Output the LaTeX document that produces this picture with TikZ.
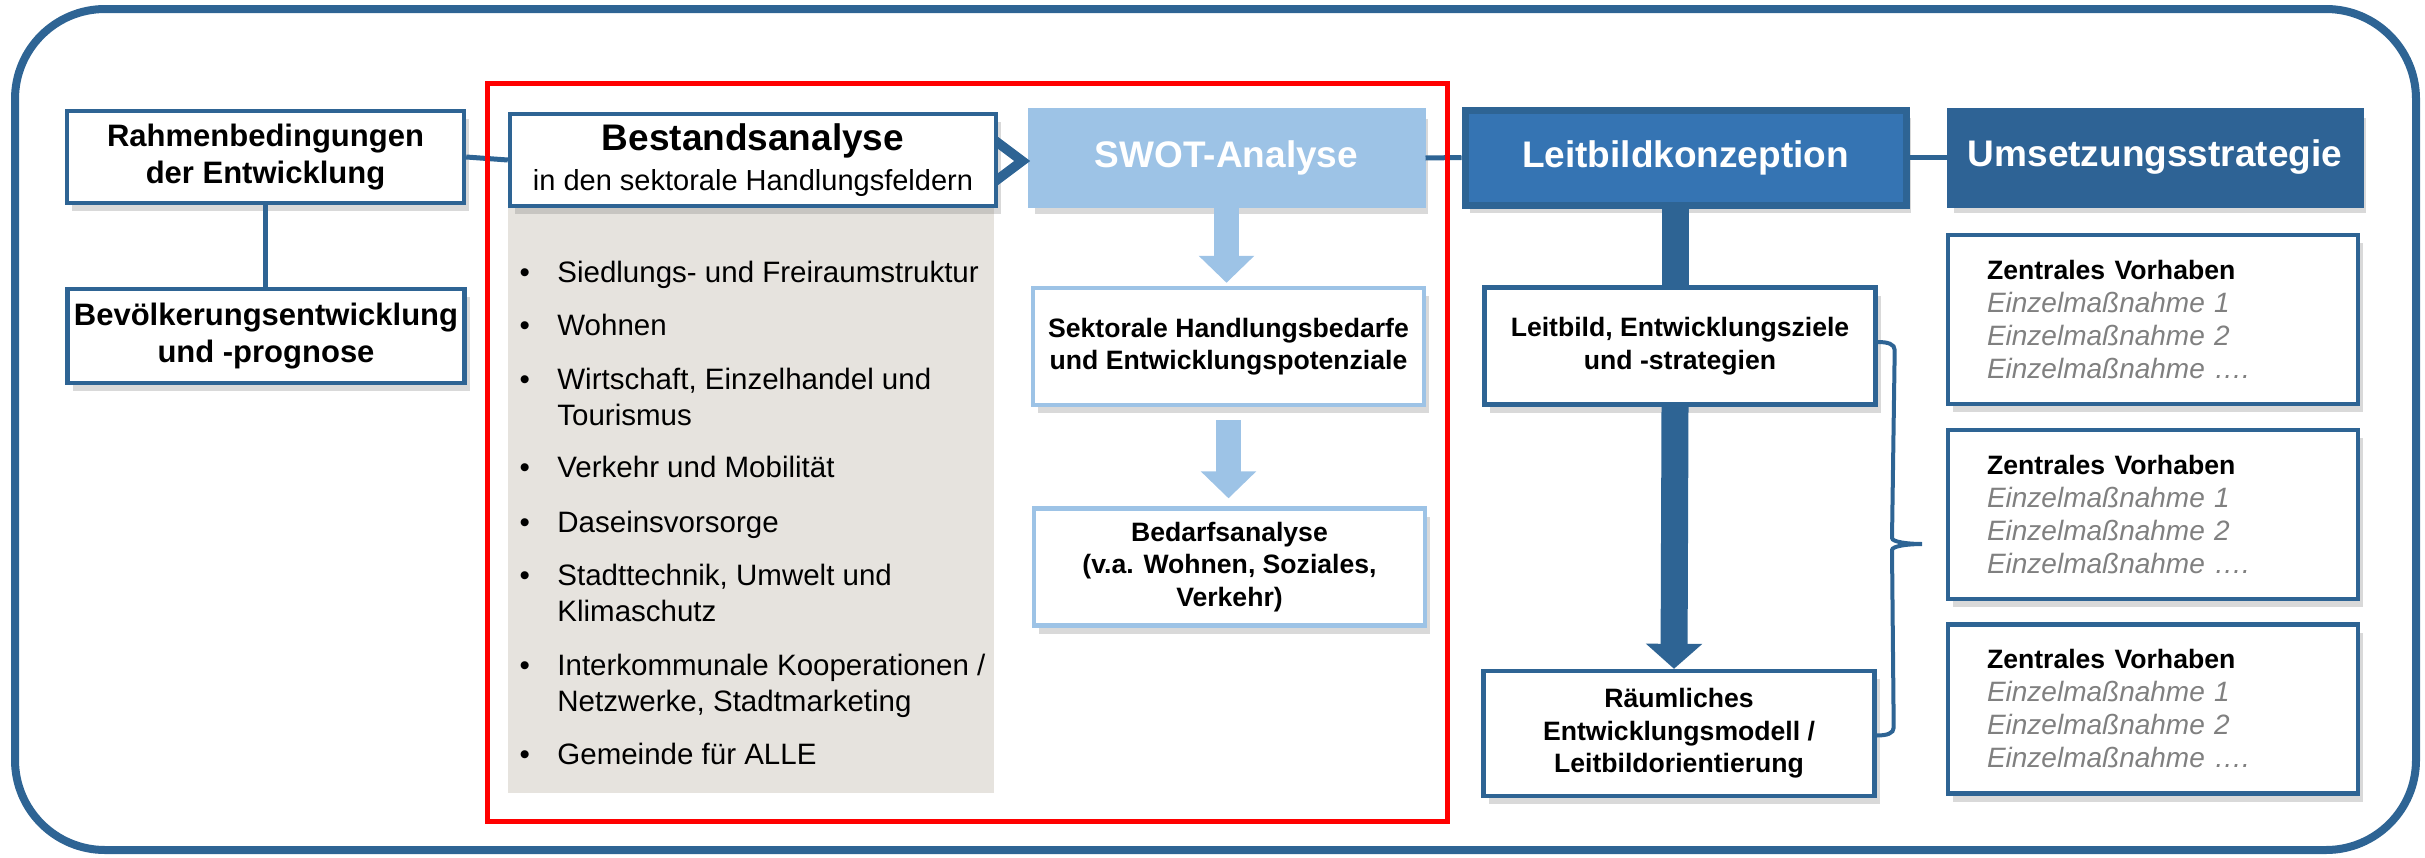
\documentclass[tikz,border=0pt]{standalone}
\usepackage{fontspec}
\setmainfont{Liberation Sans}
\usepackage{tikz}
\usetikzlibrary{shapes,arrows,positioning,calc,shadows,arrows.meta}

\definecolor{frameblue}{HTML}{2E6494}
\definecolor{swotblue}{HTML}{9DC3E6}
\definecolor{leitblue}{HTML}{3574B3}
\definecolor{umsblue}{HTML}{2E6395}
\definecolor{panelgrey}{HTML}{E6E3DE}
\definecolor{itemgrey}{HTML}{808080}

\begin{document}
\begin{tikzpicture}[x=0.5pt, y=-0.5pt,
    shade box/.style={drop shadow={shadow xshift=2.5pt, shadow yshift=-4pt, opacity=0.3}},
    box/.style={draw=frameblue, line width=2.2pt, fill=white, align=center, inner sep=3pt, shade box},
    head/.style={box, font=\fontsize{15.5pt}{18.5pt}\selectfont\bfseries, minimum width=198.5pt, minimum height=46pt},
    stage/.style={line width=2.5pt, align=center, text=white, font=\fontsize{18.5pt}{22pt}\selectfont\bfseries, minimum height=47.5pt, shade box},
    result/.style={box, font=\fontsize{13.3pt}{16.3pt}\selectfont\bfseries, minimum width=195.5pt, minimum height=58.5pt},
    vorhaben/.style={box, align=left, text width=166pt, inner xsep=19.5pt, minimum height=84.5pt, font=\fontsize{14pt}{16.5pt}\selectfont},
    link/.style={draw=frameblue, line width=2.5pt},
    bigarrow/.style={line width=12.5pt, -{Triangle[width=27pt, length=13.5pt]}},
    item/.style={anchor=base west, align=left, inner sep=0pt, font=\fontsize{14.75pt}{18pt}\selectfont},
]
    \useasboundingbox (0,0) rectangle (2425,857);

    % Frame
    \draw[frameblue, line width=4pt, rounded corners=45pt] (15,9) rectangle (2416,850);

    % Rahmenbedingungen
    \node[head] (rahmen) at (265.5,157) {Rahmenbedingungen\\der Entwicklung};
    \node[head, minimum height=47pt] (bevoelkerung) at (266,336) {Bevölkerungsentwicklung\\und -prognose};
    \draw[link] (rahmen.south) -- (rahmen.south |- bevoelkerung.north);

    % Bestandsanalyse (base = last line)
    \node[fill=panelgrey, minimum width=243pt, minimum height=294pt] (felder) at (751,499) {};
    \node[box, minimum width=243pt, minimum height=46pt, font=\fontsize{14.5pt}{20pt}\selectfont] (bestand) at (753,160)
        {{\fontsize{18.5pt}{20pt}\selectfont\bfseries Bestandsanalyse}\\in den sektorale Handlungsfeldern};
    \draw[link] (rahmen.east) -- (bestand.west);
    \foreach \y/\txt [count=\i] in {282/{Siedlungs- und Freiraumstruktur}, 335/Wohnen,
        425/{Wirtschaft, Einzelhandel und\\Tourismus}, 477/{Verkehr und Mobilität}, 532/Daseinsvorsorge,
        621/{Stadttechnik, Umwelt und\\Klimaschutz}, 711/{Interkommunale Kooperationen /\\Netzwerke, Stadtmarketing},
        764/{Gemeinde für ALLE}}
        \node[item] (feld\i) at (557,\y) {\llap{\textbullet\hspace{13.75pt}}\txt};

    % SWOT
    \node[stage, fill=swotblue, draw=swotblue, minimum width=196.5pt] (swot) at (1226.5,158) {SWOT-Analyse};
    \fill[frameblue] ([yshift=11.5pt]bestand.east) -- ++(32,24) -- ++(-32,24) -- ++(0,-12) -- ++(16,-12) -- ++(-16,-12) -- cycle;
    \node[result, draw=swotblue] (sektoral) at (1228.5,346.5) {Sektorale Handlungsbedarfe\\und Entwicklungspotenziale};
    \node[result, draw=swotblue] (bedarf) at (1229.5,567) {Bedarfsanalyse\\(v.a. Wohnen, Soziales,\\Verkehr)};
    \draw[bigarrow, swotblue, shorten >=1.5pt] (swot.south) -- (swot.south |- sektoral.north);
    \draw[bigarrow, swotblue, shorten <=6.5pt, shorten >=4pt] (sektoral.south) -- (sektoral.south |- bedarf.north);

    % Leitbild
    \node[stage, fill=leitblue, draw=frameblue, line width=3.5pt, minimum width=220.5pt] (leitbildkonz) at (1685.5,157.5) {Leitbildkonzeption};
    \draw[link] (swot.east) -- (leitbildkonz.west);
    \node[result] (leitbild) at (1680,346) {Leitbild, Entwicklungsziele\\und -strategien};
    \node[result, minimum height=62.5pt] (raeumlich) at (1679,733.5) {Räumliches\\Entwicklungsmodell /\\Leitbildorientierung};
    \draw[frameblue, line width=13.5pt] ([xshift=-2.5pt]leitbild.north) -- ([xshift=-2.5pt]leitbild.north |- leitbildkonz.south);
    \draw[bigarrow, frameblue, line width=13.5pt, -{Triangle[width=27.5pt, length=12.5pt]}] ([xshift=-2.5pt]leitbild.south) -- ([xshift=-2.5pt]raeumlich.north);
    \coordinate (bracetip) at (1922,544);
    \draw[frameblue, line width=2pt] ([yshift=2pt]leitbild.east) .. controls +(10,0) and +(0,-6) .. ++(17,8)
        -- ([xshift=-15pt, yshift=3pt]bracetip) .. controls +(0,4) and +(-14,0) .. (bracetip)
        .. controls +(-14,0) and +(0,-4) .. ([xshift=-15pt, yshift=-3pt]bracetip)
        -- ([xshift=8.5pt, yshift=3pt]raeumlich.east) .. controls +(0,6) and +(10,0) .. ([yshift=-1pt]raeumlich.east);

    % Umsetzung
    \node[stage, fill=umsblue, draw=umsblue, minimum width=206pt] (umsetzung) at (2155,157.5) {Umsetzungsstrategie};
    \draw[link] (leitbildkonz.east) -- (umsetzung.west);
    \foreach \y [count=\i] in {319.5, 514.5, 709}
        \node[vorhaben] (vorhaben\i) at (2153,\y) {{\fontsize{13.3pt}{16.5pt}\selectfont\bfseries Zentrales Vorhaben}\\
            {\color{itemgrey}\itshape Einzelmaßnahme 1}\\{\color{itemgrey}\itshape Einzelmaßnahme 2}\\{\color{itemgrey}\itshape Einzelmaßnahme ….}};

    % Bestandsanalyse + SWOT
    \draw[red, line width=2.5pt] (487,83) rectangle (1447,821);
\end{tikzpicture}
\end{document}
